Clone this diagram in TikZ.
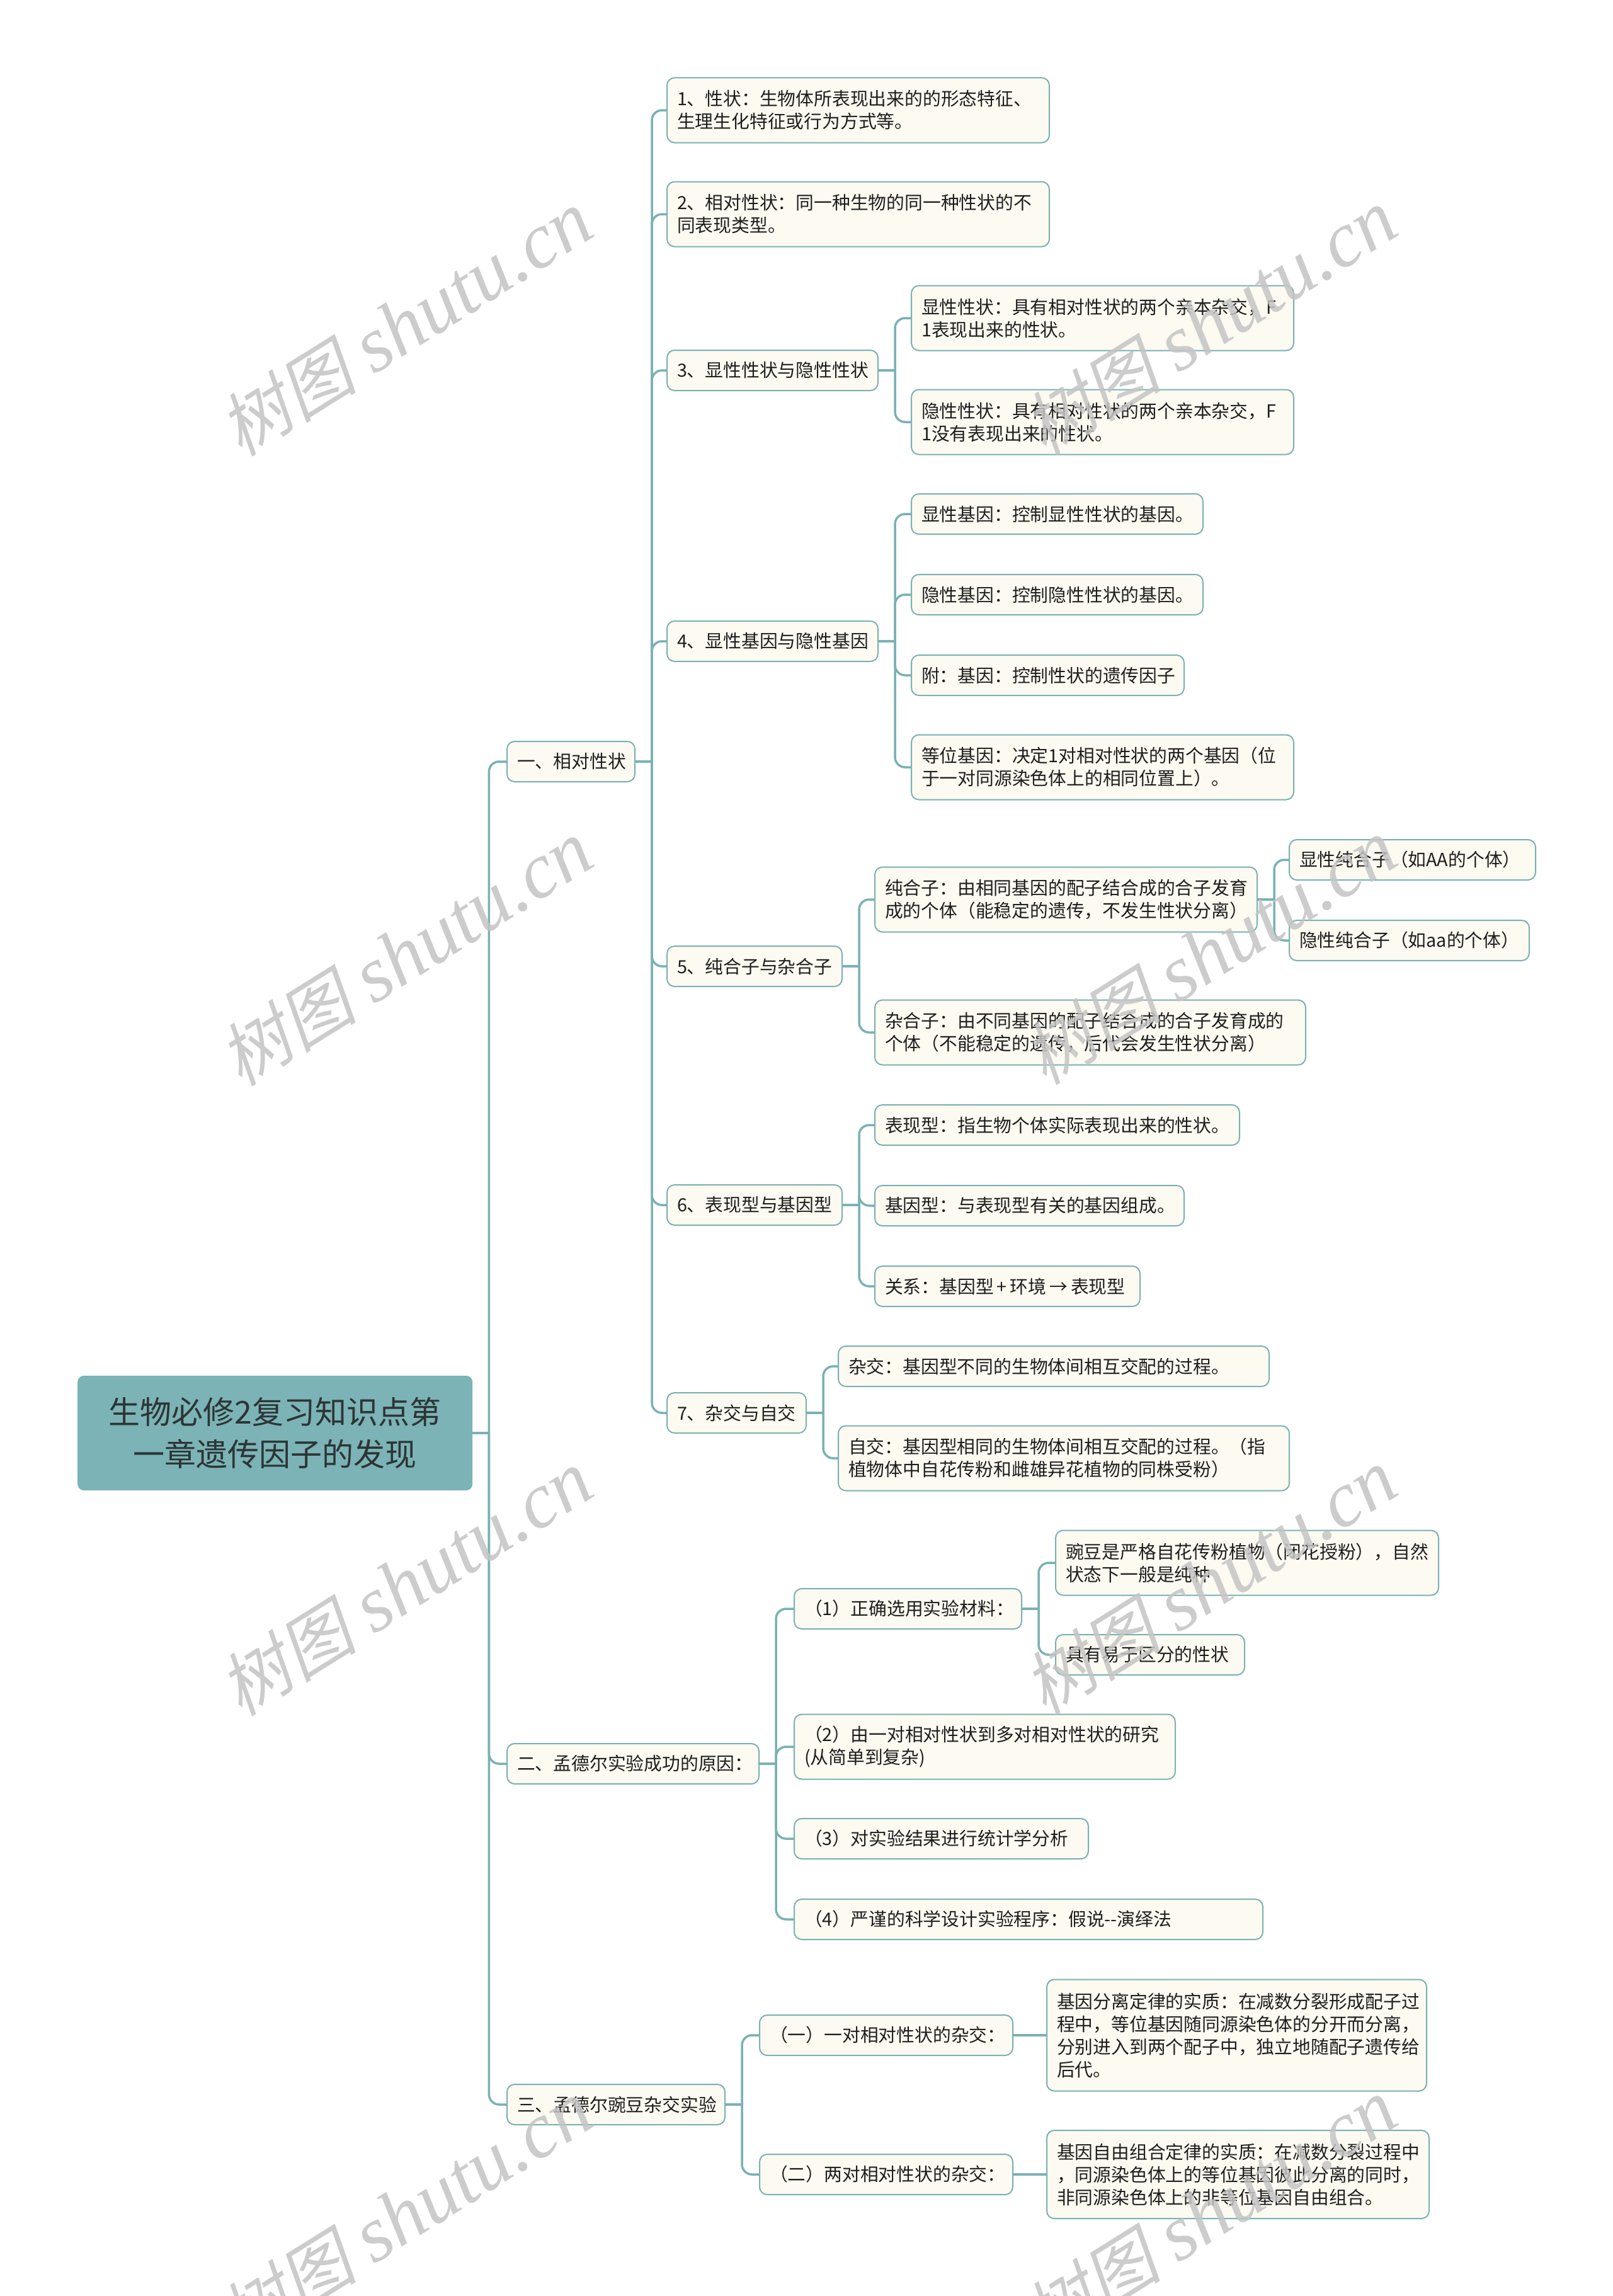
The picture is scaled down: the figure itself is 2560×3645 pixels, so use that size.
\documentclass[tikz,border=0pt]{standalone}
\usepackage{fontspec}
\newfontfamily\cjk{Noto Sans CJK SC}
\newfontfamily\wmcjk[FakeSlant=0.22]{Noto Sans CJK SC}
\newfontfamily\wmlat{Liberation Serif}
\definecolor{lnc}{RGB}{122,177,180}
\definecolor{boxfill}{RGB}{252,250,241}
\definecolor{rootfill}{RGB}{123,179,182}
\definecolor{txtc}{RGB}{30,30,30}
\definecolor{roottxt}{RGB}{45,52,52}
\definecolor{wmc}{RGB}{196,196,196}
\begin{document}
\begin{tikzpicture}[x=1pt,y=-1pt,
 box/.style={draw=lnc, fill=boxfill, line width=2pt, rounded corners=12pt, anchor=west,
   inner xsep=16pt, inner ysep=0pt, minimum height=64pt, align=left,
   font=\cjk\fontsize{28.8pt}{36pt}\selectfont, text=txtc},
 two/.style={minimum height=103pt},
 three/.style={minimum height=140pt},
 four/.style={minimum height=177pt},
 rootbox/.style={fill=rootfill, draw=none, rounded corners=10pt, anchor=west,
   minimum width=627pt, minimum height=182pt, align=center, inner sep=0pt,
   font=\cjk\fontsize{50pt}{67pt}\selectfont, text=roottxt},
 conn/.style={draw=lnc, line width=3.5pt, rounded corners=16pt},
 wm/.style={text=wmc, rotate=32, inner sep=0pt, text opacity=0.85}
]
\fill[white] (0,0) rectangle (2560,3645);
\useasboundingbox (0,0) rectangle (2560,3645);

% root
\node[rootbox] (root) at (123,2275) {生物必修2复习知识点第\\一章遗传因子的发现};

% level 1
\node[box, text width=171pt] (a) at (804,1209) {一、相对性状};
\node[box, text width=368pt] (b) at (804,2800) {二、孟德尔实验成功的原因：};
\node[box, text width=314pt] (c) at (804,3341) {三、孟德尔豌豆杂交实验};

% level 2 under a
\node[box, two, text width=575pt] (n1) at (1058,175) {1、性状：生物体所表现出来的的形态特征、\\生理生化特征或行为方式等。};
\node[box, two, text width=575pt] (n2) at (1058,340) {2、相对性状：同一种生物的同一种性状的不\\同表现类型。};
\node[box, text width=303pt] (n3) at (1058,588) {3、显性性状与隐性性状};
\node[box, text width=303pt] (n4) at (1058,1018) {4、显性基因与隐性基因};
\node[box, text width=246pt] (n5) at (1058,1534) {5、纯合子与杂合子};
\node[box, text width=246pt] (n6) at (1058,1913) {6、表现型与基因型};
\node[box, text width=189pt] (n7) at (1058,2243) {7、杂交与自交};

% under n3
\node[box, two, text width=575pt] (n3a) at (1446,505) {显性性状：具有相对性状的两个亲本杂交，F\\1表现出来的性状。};
\node[box, two, text width=575pt] (n3b) at (1446,670) {隐性性状：具有相对性状的两个亲本杂交，F\\1没有表现出来的性状。};

% under n4
\node[box, text width=431pt] (n4a) at (1446,816) {显性基因：控制显性性状的基因。};
\node[box, text width=431pt] (n4b) at (1446,944) {隐性基因：控制隐性性状的基因。};
\node[box, text width=401pt] (n4c) at (1446,1072) {附：基因：控制性状的遗传因子};
\node[box, two, text width=575pt] (n4d) at (1446,1218) {等位基因：决定1对相对性状的两个基因（位\\于一对同源染色体上的相同位置上）。};

% under n5
\node[box, two, text width=575pt] (n5a) at (1388,1428) {纯合子：由相同基因的配子结合成的合子发育\\成的个体（能稳定的遗传，不发生性状分离）};
\node[box, text width=359pt] (n5a1) at (2046,1365) {显性纯合子（如AA的个体）};
\node[box, text width=349pt] (n5a2) at (2046,1493) {隐性纯合子（如aa的个体）};
\node[box, two, text width=652pt] (n5b) at (1388,1639) {杂合子：由不同基因的配子结合成的合子发育成的\\个体（不能稳定的遗传，后代会发生性状分离）};

% under n6
\node[box, text width=547pt] (n6a) at (1388,1786) {表现型：指生物个体实际表现出来的性状。};
\node[box, text width=459pt] (n6b) at (1388,1914) {基因型：与表现型有关的基因组成。};
\node[box, text width=389pt] (n6c) at (1388,2042) {\mbox{关系：基因型\hspace{5pt}+\hspace{5pt}环境\hspace{5pt}→\hspace{5pt}表现型}};

% under n7
\node[box, text width=652pt] (n7a) at (1330,2169) {杂交：基因型不同的生物体间相互交配的过程。};
\node[box, two, text width=684pt] (n7b) at (1330,2315) {自交：基因型相同的生物体间相互交配的过程。（指\\植物体中自花传粉和雌雄异花植物的同株受粉）};

% under b
\node[box, text width=329pt] (b1) at (1260,2554) {（1）正确选用实验材料：};
\node[box, two, text width=576pt] (b1a) at (1675,2481) {豌豆是严格自花传粉植物（闭花授粉），自然\\状态下一般是纯种};
\node[box, text width=268pt] (b1b) at (1675,2627) {具有易于区分的性状};
\node[box, two, text width=573pt] (b2) at (1260,2773) {（2）由一对相对性状到多对相对性状的研究\\(从简单到复杂)};
\node[box, text width=435pt] (b3) at (1260,2919) {（3）对实验结果进行统计学分析};
\node[box, text width=712pt] (b4) at (1260,3047) {（4）严谨的科学设计实验程序：假说--演绎法};

% under c
\node[box, text width=370pt] (c1) at (1205,3231) {（一）一对相对性状的杂交：};
\node[box, four, text width=571pt] (c1a) at (1661,3231) {基因分离定律的实质：在减数分裂形成配子过\\程中，等位基因随同源染色体的分开而分离，\\分别进入到两个配子中，独立地随配子遗传给\\后代。};
\node[box, text width=370pt] (c2) at (1205,3452) {（二）两对相对性状的杂交：};
\node[box, three, text width=575pt] (c2a) at (1661,3452) {基因自由组合定律的实质：在减数分裂过程中\\，同源染色体上的等位基因彼此分离的同时，\\非同源染色体上的非等位基因自由组合。};

% connectors
\foreach \p/\kids in {root/{a,b,c}, a/{n1,n2,n3,n4,n5,n6,n7}, n3/{n3a,n3b},
  n4/{n4a,n4b,n4c,n4d}, n5/{n5a,n5b}, n5a/{n5a1,n5a2}, n6/{n6a,n6b,n6c},
  n7/{n7a,n7b}, b/{b1,b2,b3,b4}, b1/{b1a,b1b}, c/{c1,c2}} {
  \draw[conn] (\p.east) -- ++(26,0);
  \foreach \k in \kids {
    \draw[conn] (\p.east) ++(26,0) |- (\k.west);
  }
}
\draw[conn] (c1.east) -- (c1a.west);
\draw[conn] (c2.east) -- (c2a.west);

% watermarks
\foreach \wx/\wy [count=\i] in {644/514, 644/1514, 644/2514, 644/3514, 1921/512, 1921/1512, 1921/2512, 1921/3512} {
  \node[wm] (wm\i) at (\wx,\wy) {{\wmcjk\fontsize{110pt}{120pt}\selectfont 树图}\hspace{28pt}{\wmlat\itshape\fontsize{125pt}{140pt}\selectfont shutu.cn}};
}
\end{tikzpicture}
\end{document}
